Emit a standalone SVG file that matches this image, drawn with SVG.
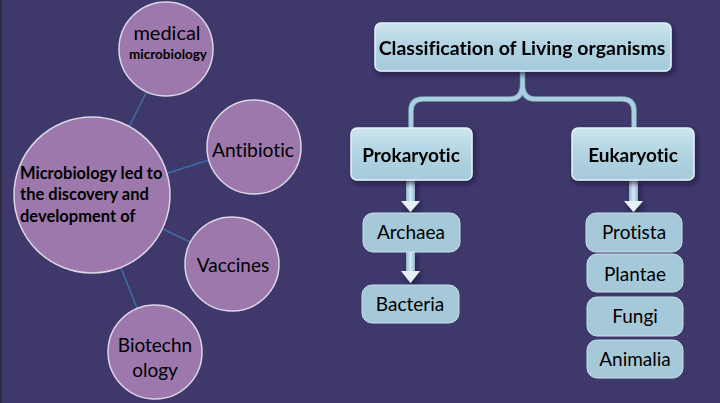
<svg xmlns="http://www.w3.org/2000/svg" width="720" height="403" viewBox="0 0 720 403">
<defs>
<style>
.bg{fill:#3e386b}
.circ{fill:#9d78ac;stroke:#ddd6e6;stroke-width:1.5}
.link{stroke:#3f6fa6;stroke-width:1.5;fill:none}
.t{font-family:Lato,"Open Sans","Liberation Sans",sans-serif;fill:#000;font-variant-ligatures:none}
.c{text-anchor:middle}
.b{font-weight:bold}
.box{fill:url(#boxg);stroke:#e4f1f7;stroke-width:1.5}
.sbox{fill:#a6c9da;stroke:#c9e1ec;stroke-width:1}
.tube{fill:none;stroke:#a9cfe0;stroke-width:4}
.tubeo{fill:none;stroke:#7aa0b8;stroke-width:5.5}
</style>
<linearGradient id="boxg" x1="0" y1="0" x2="0" y2="1">
<stop offset="0" stop-color="#cde4ef"/>
<stop offset="0.5" stop-color="#b1d3e2"/>
<stop offset="1" stop-color="#a5cadb"/>
</linearGradient>
<linearGradient id="shaft" x1="0" y1="0" x2="1" y2="0">
<stop offset="0" stop-color="#8fb6cc"/>
<stop offset="0.5" stop-color="#d6eaf3"/>
<stop offset="1" stop-color="#8fb6cc"/>
</linearGradient>
<filter id="sh" x="-10%" y="-10%" width="130%" height="140%">
<feDropShadow dx="2" dy="3" stdDeviation="2.5" flood-color="#1c1838" flood-opacity="0.7"/>
</filter>
</defs>
<rect class="bg" x="0" y="0" width="720" height="403"/>
<rect x="0" y="0" width="2" height="403" fill="#2d2f3e"/>

<g id="connectors">
<line class="link" x1="129" y1="127" x2="146" y2="93"/>
<line class="link" x1="168" y1="173" x2="209" y2="160"/>
<line class="link" x1="163" y1="229" x2="190" y2="242"/>
<line class="link" x1="121" y1="268" x2="137" y2="308"/>
<path class="tubeo" d="M522.5,71 L522.5,84 Q522.5,99 510,99 L423,99 Q411,99 411,111 L411,129 M522.5,84 Q522.5,99 535,99 L622,99 Q634,99 634,111 L634,129"/>
<path class="tube" d="M522.5,71 L522.5,84 Q522.5,99 510,99 L423,99 Q411,99 411,111 L411,129 M522.5,84 Q522.5,99 535,99 L622,99 Q634,99 634,111 L634,129"/>
<g filter="url(#sh)">
<rect x="406" y="180" width="9" height="22" fill="url(#shaft)"/>
<polygon points="401,201 420,201 410.5,212" fill="#e6f2f8"/>
<rect x="406" y="252" width="9" height="20" fill="url(#shaft)"/>
<polygon points="401,271 420,271 410.5,283" fill="#e6f2f8"/>
<rect x="629" y="180" width="9" height="22" fill="url(#shaft)"/>
<polygon points="624,201 643,201 633.5,212" fill="#e6f2f8"/>
</g>
</g>

<g id="medical">
<circle class="circ" cx="166" cy="49" r="47"/>
<text class="t c" x="167" y="40" font-size="20">medical</text>
<text class="t c b" x="168" y="59" font-size="13.5">microbiology</text>
</g>
<g id="main">
<circle class="circ" cx="92" cy="195" r="78"/>
<text class="t b" x="20" y="179" font-size="16.5">Microbiology led to</text>
<text class="t b" x="20" y="200" font-size="16.5">the discovery and</text>
<text class="t b" x="20" y="222" font-size="16.5">development of</text>
</g>
<g id="antibiotic">
<circle class="circ" cx="254" cy="147" r="47"/>
<text class="t c" x="253" y="157" font-size="19.3">Antibiotic</text>
</g>
<g id="vaccines">
<circle class="circ" cx="232" cy="264" r="47"/>
<text class="t c" x="233" y="272" font-size="19">Vaccines</text>
</g>
<g id="biotechnology">
<circle class="circ" cx="155" cy="352" r="47"/>
<text class="t c" x="155" y="352" font-size="19">Biotechn</text>
<text class="t c" x="155" y="377" font-size="19">ology</text>
</g>

<g id="classification" filter="url(#sh)">
<rect class="box" x="375" y="23" width="296" height="48" rx="6"/>
<text class="t c b" x="522" y="55" font-size="19.5">Classification of Living organisms</text>
</g>
<g id="prokaryotic" filter="url(#sh)">
<rect class="box" x="351" y="128" width="121" height="52" rx="6"/>
<text class="t c b" x="411" y="162" font-size="19">Prokaryotic</text>
</g>
<g id="eukaryotic" filter="url(#sh)">
<rect class="box" x="572" y="128" width="122" height="52" rx="6"/>
<text class="t c b" x="633" y="162" font-size="19">Eukaryotic</text>
</g>
<g id="archaea">
<rect class="sbox" x="363" y="213" width="97" height="39" rx="10"/>
<text class="t c" x="411" y="239" font-size="19">Archaea</text>
</g>
<g id="bacteria">
<rect class="sbox" x="362" y="285" width="97" height="38" rx="10"/>
<text class="t c" x="410" y="311" font-size="19">Bacteria</text>
</g>
<g id="protista">
<rect class="sbox" x="586" y="213" width="96" height="39" rx="10"/>
<text class="t c" x="634" y="239" font-size="19">Protista</text>
</g>
<g id="plantae">
<rect class="sbox" x="587" y="254" width="96" height="38" rx="10"/>
<text class="t c" x="635" y="281" font-size="19">Plantae</text>
</g>
<g id="fungi">
<rect class="sbox" x="587" y="297" width="96" height="39" rx="10"/>
<text class="t c" x="635" y="323" font-size="19">Fungi</text>
</g>
<g id="animalia">
<rect class="sbox" x="587" y="340" width="96" height="38" rx="10"/>
<text class="t c" x="635" y="366" font-size="19">Animalia</text>
</g>
</svg>
